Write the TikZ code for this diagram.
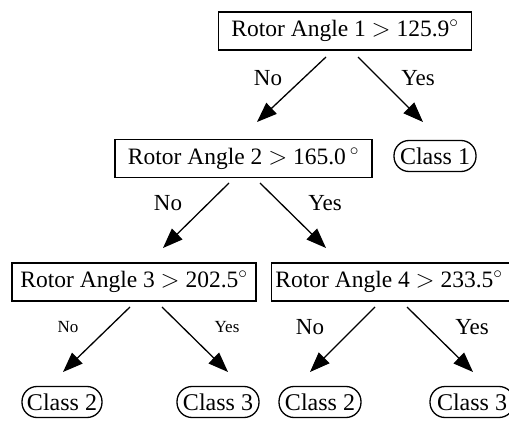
\documentclass[tikz,border=0pt]{standalone}
\usepackage{fontspec}
\setmainfont{Liberation Serif}
\usetikzlibrary{arrows.meta}
\begin{document}
\begin{tikzpicture}[x=1pt,y=-1pt,
  test/.style={draw,line width=1.3pt,minimum height=38pt,inner xsep=4pt,font=\fontsize{23.5}{26}\selectfont},
  leaf/.style={draw,line width=1.3pt,rounded corners=15pt,minimum height=31pt,inner xsep=2pt,inner ysep=1pt,font=\fontsize{24}{26}\selectfont},
  branch/.style={line width=1.3pt,-{Triangle[length=20pt,width=15pt]}},
  lbl/.style={font=\fontsize{23}{26}\selectfont},
  lbls/.style={font=\fontsize{17}{19}\selectfont}]
\useasboundingbox (0,0) rectangle (509,425);
% decision nodes
\node[test,minimum width=253pt] (t1) at (345,31) {Rotor Angle 1 $>$ 125.9$^\circ$};
\node[test,minimum width=257pt] (t2) at (243.5,158.5) {Rotor Angle 2 $>$ 165.0\,$^\circ$};
\node[test,minimum width=244pt] (t3) at (134,282) {Rotor Angle 3 $>$ 202.5$^\circ$};
\node[test,minimum width=244pt] (t4) at (395,282) {Rotor Angle 4 $>$ 233.5$^\circ$\hspace*{12pt}};
% leaves
\node[leaf,minimum width=82pt] (c1) at (435,156) {Class 1};
\node[leaf,minimum width=80pt] (c2a) at (62,402) {Class 2};
\node[leaf,minimum width=82pt] (c3a) at (218,402) {Class 3};
\node[leaf,minimum width=82pt] (c2b) at (320,402) {Class 2};
\node[leaf,minimum width=84pt] (c3b) at (472,402) {Class 3};
% arrow end points
\coordinate (a1s) at (326,57);  \coordinate (a1e) at (257,122);
\coordinate (b1s) at (358,57);  \coordinate (b1e) at (423,122);
\coordinate (a2s) at (229,183); \coordinate (a2e) at (163,248);
\coordinate (b2s) at (260,183); \coordinate (b2e) at (326,248);
\coordinate (a3s) at (130,307); \coordinate (a3e) at (63,372);
\coordinate (b3s) at (162,307); \coordinate (b3e) at (228,372);
\coordinate (a4s) at (375,307); \coordinate (a4e) at (310,372);
\coordinate (b4s) at (407,307); \coordinate (b4e) at (473,372);
% branches
\draw[branch] (a1s) -- (a1e);
\draw[branch] (b1s) -- (b1e);
\draw[branch] (a2s) -- (a2e);
\draw[branch] (b2s) -- (b2e);
\draw[branch] (a3s) -- (a3e);
\draw[branch] (b3s) -- (b3e);
\draw[branch] (a4s) -- (a4e);
\draw[branch] (b4s) -- (b4e);
% branch labels
\node[lbl] (n1) at (268,78) {No};
\node[lbl] (y1) at (418,78) {Yes};
\node[lbl] (n2) at (168,203) {No};
\node[lbl] (y2) at (325,203) {Yes};
\node[lbls] (n3) at (68,327) {No};
\node[lbls] (y3) at (227,327) {Yes};
\node[lbl] (n4) at (310,327) {No};
\node[lbl] (y4) at (472,327) {Yes};
\end{tikzpicture}
\end{document}
